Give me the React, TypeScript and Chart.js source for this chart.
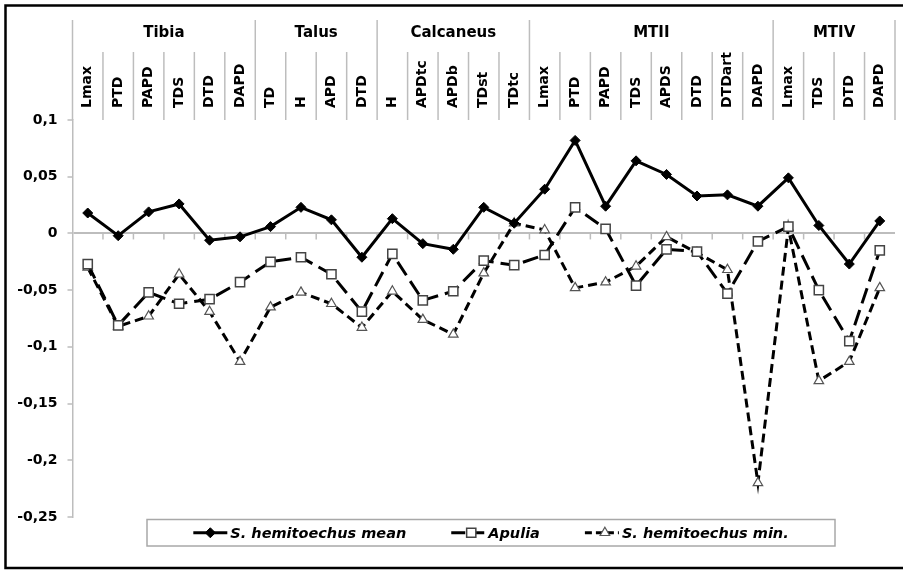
import React, { useEffect, useRef } from 'react';
import { Chart, registerables } from 'chart.js';

Chart.register(...registerables);

const categories = ['Lmax', 'PTD', 'PAPD', 'TDS', 'DTD', 'DAPD', 'TD', 'H', 'APD', 'DTD', 'H', 'APDtc', 'APDb', 'TDst', 'TDtc', 'Lmax', 'PTD', 'PAPD', 'TDS', 'APDS', 'DTD', 'DTDart', 'DAPD', 'Lmax', 'TDS', 'DTD', 'DAPD'];
const groupNames = ['Tibia', 'Talus', 'Calcaneus', 'MTII', 'MTIV'];
const groupSizes = [6, 4, 5, 8, 4];

const meanValues = [0.018, -0.002, 0.019, 0.026, -0.006, -0.003, 0.006, 0.023, 0.012, -0.021, 0.013, -0.009, -0.014, 0.023, 0.009, 0.039, 0.082, 0.024, 0.064, 0.052, 0.033, 0.034, 0.024, 0.049, 0.007, -0.027, 0.011];
const apuliaValues = [-0.027, -0.081, -0.052, -0.062, -0.058, -0.043, -0.025, -0.021, -0.036, -0.069, -0.018, -0.059, -0.051, -0.024, -0.028, -0.019, 0.023, 0.004, -0.046, -0.014, -0.016, -0.053, -0.007, 0.006, -0.05, -0.095, -0.015];
const minValues = [-0.03, -0.082, -0.073, -0.036, -0.069, -0.113, -0.065, -0.052, -0.062, -0.083, -0.051, -0.076, -0.089, -0.035, 0.009, 0.003, -0.048, -0.043, -0.029, -0.003, -0.017, -0.032, -0.22, 0.005, -0.13, -0.113, -0.048];

const seriesNames = ['S. hemitoechus mean', 'Apulia', 'S. hemitoechus min.'];
const yMin = -0.25;
const yMax = 0.1;
const yStep = 0.05;

const FONT = '"DejaVu Sans", sans-serif';
const GRID = '#bdbdbd';

function drawMarker(ctx: CanvasRenderingContext2D, style: string, x: number, y: number, r: number, fill: string, stroke: string, bw: number) {
  ctx.save();
  ctx.setLineDash([]);
  ctx.beginPath();
  if (style === 'rectRot') {
    ctx.moveTo(x, y - r);
    ctx.lineTo(x + r, y);
    ctx.lineTo(x, y + r);
    ctx.lineTo(x - r, y);
    ctx.closePath();
  } else if (style === 'rect') {
    const s = r * Math.SQRT1_2;
    ctx.rect(x - s, y - s, 2 * s, 2 * s);
  } else {
    const h = r * 1.5;
    ctx.moveTo(x, y - h * 2 / 3);
    ctx.lineTo(x + r * 0.87, y + h / 3);
    ctx.lineTo(x - r * 0.87, y + h / 3);
    ctx.closePath();
  }
  ctx.fillStyle = fill;
  ctx.fill();
  ctx.lineWidth = bw;
  ctx.strokeStyle = stroke;
  ctx.stroke();
  ctx.restore();
}

const headerPlugin = {
  id: 'headerPlugin',
  beforeDatasetsDraw(chart: any) {
    const ctx: CanvasRenderingContext2D = chart.ctx;
    const x = chart.scales.x;
    const y = chart.scales.y;
    const top = chart.chartArea.top;
    const w = x.getPixelForValue(1) - x.getPixelForValue(0);
    const boundary = (i: number) => x.getPixelForValue(0) - w / 2 + i * w;
    ctx.save();
    ctx.strokeStyle = GRID;
    ctx.lineWidth = 1.5;
    const groupStarts: number[] = [0];
    groupSizes.forEach((g, i) => groupStarts.push(groupStarts[i] + g));
    for (let i = 0; i <= categories.length; i++) {
      const isGroup = groupStarts.includes(i);
      const bx = boundary(i);
      ctx.beginPath();
      ctx.moveTo(bx, isGroup ? 20 : 52);
      ctx.lineTo(bx, top);
      ctx.stroke();
    }
    const zy = y.getPixelForValue(0);
    for (let i = 1; i < categories.length; i++) {
      const bx = boundary(i);
      ctx.beginPath();
      ctx.moveTo(bx, zy);
      ctx.lineTo(bx, zy + 6);
      ctx.stroke();
    }
    ctx.fillStyle = '#000';
    ctx.font = `bold 15px ${FONT}`;
    ctx.textAlign = 'center';
    ctx.textBaseline = 'middle';
    groupNames.forEach((name, gi) => {
      const cx = (boundary(groupStarts[gi]) + boundary(groupStarts[gi + 1])) / 2;
      ctx.fillText(name, cx, 33);
    });
    ctx.font = `bold 14px ${FONT}`;
    ctx.textAlign = 'left';
    categories.forEach((c, i) => {
      const cx = x.getPixelForValue(i);
      ctx.save();
      ctx.translate(cx, 108);
      ctx.rotate(-Math.PI / 2);
      ctx.fillText(c, 0, 0);
      ctx.restore();
    });
    ctx.restore();
  },
  afterDraw(chart: any) {
    const ctx: CanvasRenderingContext2D = chart.ctx;
    ctx.save();
    const bx0 = 147, bx1 = 835, by0 = 519.5, by1 = 546;
    ctx.fillStyle = '#fff';
    ctx.fillRect(bx0, by0, bx1 - bx0, by1 - by0);
    ctx.strokeStyle = '#a8a8a8';
    ctx.lineWidth = 1.5;
    ctx.strokeRect(bx0, by0, bx1 - bx0, by1 - by0);
    ctx.font = `italic bold 14.5px ${FONT}`;
    ctx.textBaseline = 'middle';
    ctx.textAlign = 'left';
    const sample = 34, tgap = 3, igap = 45;
    const widths = seriesNames.map((n) => ctx.measureText(n).width);
    const total = widths.reduce((a, b) => a + b, 0) + 3 * (sample + tgap) + 2 * igap;
    let cx = (bx0 + bx1) / 2 - total / 2;
    const cy = (by0 + by1) / 2;
    chart.data.datasets.forEach((ds: any, i: number) => {
      ctx.save();
      ctx.strokeStyle = ds.borderColor;
      ctx.lineWidth = ds.borderWidth;
      ctx.setLineDash(i === 0 ? [] : i === 1 ? [14, 5] : [7, 4]);
      ctx.beginPath();
      ctx.moveTo(cx, cy);
      ctx.lineTo(cx + sample, cy);
      ctx.stroke();
      ctx.restore();
      drawMarker(ctx, ds.pointStyle, cx + sample / 2 + (i === 0 ? 0 : 3), cy, ds.pointRadius, ds.pointBackgroundColor, ds.pointBorderColor, ds.pointBorderWidth);
      ctx.fillStyle = '#000';
      ctx.fillText(seriesNames[i], cx + sample + tgap, cy + 1);
      cx += sample + tgap + widths[i] + igap;
    });
    ctx.strokeStyle = '#000';
    ctx.lineWidth = 2.5;
    ctx.setLineDash([]);
    ctx.strokeRect(5.5, 5.5, 905, 562.5);
    ctx.restore();
  },
};

function fmt(v: number): string {
  const r = Math.round(v * 100) / 100;
  return String(r).replace('.', ',');
}

export default function App() {
  const ref = useRef<HTMLCanvasElement>(null);
  useEffect(() => {
    const canvas = ref.current;
    if (!canvas) return;
    const chart = new Chart(canvas, {
      type: 'line',
      data: {
        labels: categories,
        datasets: [
          {
            label: seriesNames[0],
            data: meanValues,
            borderColor: '#000',
            borderWidth: 3,
            pointStyle: 'rectRot',
            pointRadius: 5,
            pointBackgroundColor: '#000',
            pointBorderColor: '#000',
            pointBorderWidth: 1,
            tension: 0,
          },
          {
            label: seriesNames[1],
            data: apuliaValues,
            borderColor: '#000',
            borderWidth: 3,
            borderDash: [16, 7],
            pointStyle: 'rect',
            pointRadius: 6.5,
            pointBackgroundColor: '#fff',
            pointBorderColor: '#444',
            pointBorderWidth: 1.5,
            tension: 0,
          },
          {
            label: seriesNames[2],
            data: minValues,
            borderColor: '#000',
            borderWidth: 3,
            borderDash: [9, 5],
            pointStyle: 'triangle',
            pointRadius: 5.5,
            pointBackgroundColor: '#fff',
            pointBorderColor: '#555',
            pointBorderWidth: 1.2,
            tension: 0,
          },
        ],
      } as any,
      options: {
        responsive: false,
        animation: false,
        devicePixelRatio: 1,
        layout: { padding: { top: 120, right: 2.5, bottom: 53, left: 0 } },
        plugins: { legend: { display: false }, tooltip: { enabled: false } },
        scales: {
          x: { type: 'category', offset: true, display: false },
          y: {
            min: yMin,
            max: yMax,
            afterFit: (s: any) => {
              s.width = 72.5;
            },
            ticks: {
              stepSize: yStep,
              padding: 10,
              color: '#000',
              font: { family: FONT, weight: 'bold', size: 14 },
              callback: (v: any) => fmt(Number(v)),
            },
            grid: {
              drawOnChartArea: true,
              color: (c: any) => (c.tick && Math.abs(c.tick.value) < 1e-9 ? GRID : 'rgba(0,0,0,0)'),
              lineWidth: 2,
              tickLength: 5,
              tickColor: GRID,
              tickWidth: 1.5,
            },
            border: { display: true, color: GRID, width: 1.5 },
          },
        },
      } as any,
      plugins: [headerPlugin],
    });
    return () => chart.destroy();
  }, []);
  return (
    <div style={{ position: 'absolute', left: 0, top: 0, width: 903, height: 570, background: '#fff' }}>
      <canvas ref={ref} width={903} height={570} style={{ display: 'block' }} />
    </div>
  );
}
